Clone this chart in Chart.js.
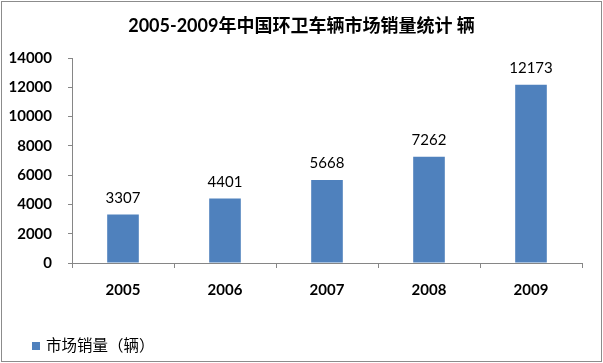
<!DOCTYPE html>
<html>
<head>
<meta charset="utf-8">
<script src="https://cdn.jsdelivr.net/npm/chart.js@4/dist/chart.umd.min.js"></script>
<style>
  html, body { margin: 0; padding: 0; background: #ffffff; }
  canvas { display: block; }
</style>
</head>
<body>
<canvas id="chart" width="603" height="363"></canvas>
<script>
// Chart data
const years = ["2005", "2006", "2007", "2008", "2009"];
const sales = [3307, 4401, 5668, 7262, 12173];
const seriesName = "市场销量（辆）";
const chartTitle = "2005-2009年中国环卫车辆市场销量统计 辆";

const fontFamily = "Lato, 'Noto Sans CJK SC', sans-serif";
const barColor = "#4F81BD";
const axisGray = "#868686";

//====================================
// Small helper plugin: value labels above each bar
const barValues = {
    id: "barValues",
    afterDatasetsDraw(chart) {
        let ctx = chart.ctx;
        let meta = chart.getDatasetMeta(0);
        ctx.save();
        ctx.font = "15px " + fontFamily;
        ctx.fillStyle = "#000000";
        ctx.textAlign = "center";
        ctx.textBaseline = "alphabetic";
        meta.data.forEach(function(bar, i) {
            ctx.fillText(String(sales[i]), bar.x, bar.y - 12);
        });
        ctx.restore();
    }
};

// Title centred on the whole picture (built-in one centres on the padded box)
const topTitle = {
    id: "topTitle",
    afterDraw(chart) {
        let ctx = chart.ctx;
        ctx.save();
        ctx.font = "bold 18px " + fontFamily;
        ctx.fillStyle = "#000000";
        ctx.textAlign = "center";
        ctx.textBaseline = "middle";
        ctx.fillText(chartTitle, chart.width / 2, 26);
        ctx.restore();
    }
};

// Legend drawn by hand at the bottom left (built-in one is hard to place)
const bottomLegend = {
    id: "bottomLegend",
    afterDraw(chart) {
        let ctx = chart.ctx;
        ctx.save();
        ctx.fillStyle = chart.data.datasets[0].backgroundColor;
        ctx.fillRect(32, 342, 8, 8);
        ctx.font = "15.5px " + fontFamily;
        ctx.fillStyle = "#000000";
        ctx.textAlign = "left";
        ctx.textBaseline = "middle";
        ctx.fillText(chart.data.datasets[0].label, 46, 346);
        ctx.restore();
    }
};

// Gray frame round the whole picture
const frame = {
    id: "frame",
    afterDraw(chart) {
        let ctx = chart.ctx;
        ctx.save();
        ctx.strokeStyle = "#8c8c8c";
        ctx.lineWidth = 1;
        ctx.strokeRect(1.5, 1.5, chart.width - 3, chart.height - 3);
        ctx.restore();
    }
};

//====================================
let config = {
    type: "bar",
    data: {
        labels: years,
        datasets: [{
            label: seriesName,
            data: sales,
            backgroundColor: barColor,
            categoryPercentage: 1.0,
            barPercentage: 0.31
        }]
    },
    options: {
        responsive: false,
        animation: false,
        layout: { padding: { left: 0, right: 21, top: 58, bottom: 30 } },
        plugins: {
            title: { display: false },
            legend: { display: false },
            tooltip: { enabled: false }
        },
        scales: {
            x: {
                offset: true,
                grid: { display: true, offset: true, drawOnChartArea: false, tickLength: 5, color: axisGray },
                border: { color: axisGray },
                ticks: { color: "#000000", padding: 13, font: { family: fontFamily, size: 15, weight: "bold" } },
                afterFit: function(scale) { scale.height = 70; }
            },
            y: {
                min: 0,
                max: 14000,
                grid: { display: true, drawOnChartArea: false, tickLength: 4, color: axisGray },
                border: { color: axisGray },
                ticks: {
                    stepSize: 2000,
                    color: "#000000",
                    padding: 16,
                    font: { family: fontFamily, size: 15, weight: "bold" },
                    callback: function(value) { return String(value); }
                },
                afterFit: function(scale) { scale.width = 72; }
            }
        }
    },
    plugins: [barValues, topTitle, bottomLegend, frame]
};

let chart = new Chart(document.getElementById("chart"), config);
</script>
</body>
</html>
